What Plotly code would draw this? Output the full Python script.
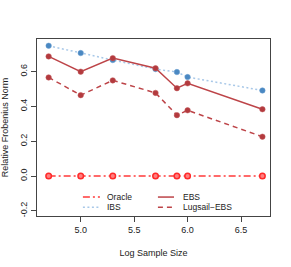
import plotly.graph_objects as go

log_n = [4.7, 5.0, 5.3, 5.7, 5.9, 6.0, 6.7]
oracle = [0.0, 0.0, 0.0, 0.0, 0.0, 0.0, 0.0]
ibs = [0.749, 0.707, 0.667, 0.615, 0.598, 0.569, 0.492]
ebs = [0.688, 0.600, 0.678, 0.620, 0.505, 0.533, 0.384]
lugsail = [0.567, 0.465, 0.550, 0.478, 0.350, 0.378, 0.226]

y_ticks = [-0.2, 0.0, 0.2, 0.4, 0.6]
x_ticks = [5.0, 5.5, 6.0, 6.5]
legend_labels = ["Oracle", "IBS", "EBS", "Lugsail\u2212EBS"]

FONT = "Liberation Sans, Arial, sans-serif"
TXT = "#222"

ORACLE_C = "#ff3a3a"
IBS_LINE = "#a8c8e8"
IBS_MARK = "#4a88c2"
EBS_LINE = "#bd4448"
EBS_MARK = "#b33a3e"

DASHDOT = "7px,3px,2px,3px"
DOT = "2px,2.5px"
DASH = "5px,4px"

fig = go.Figure()
fig.add_trace(go.Scatter(
    x=log_n, y=oracle, name=legend_labels[0], mode="lines+markers", showlegend=False,
    line=dict(color=ORACLE_C, width=1.5, dash=DASHDOT),
    marker=dict(size=5.5, color="#ff8080", line=dict(color="#ff2a2a", width=1.5))))
fig.add_trace(go.Scatter(
    x=log_n, y=ibs, name=legend_labels[1], mode="lines+markers", showlegend=False,
    line=dict(color=IBS_LINE, width=1.5, dash=DOT),
    marker=dict(size=5.5, color=IBS_MARK, line=dict(color="#6a9fd0", width=0.5))))
fig.add_trace(go.Scatter(
    x=log_n, y=ebs, name=legend_labels[2], mode="lines+markers", showlegend=False,
    line=dict(color=EBS_LINE, width=1.5),
    marker=dict(size=5.5, color=EBS_MARK, line=dict(color="#c0585a", width=0.5))))
fig.add_trace(go.Scatter(
    x=log_n, y=lugsail, name=legend_labels[3], mode="lines+markers", showlegend=False,
    line=dict(color=EBS_LINE, width=1.5, dash=DASH),
    marker=dict(size=5.5, color=EBS_MARK, line=dict(color="#c0585a", width=0.5))))

axis_common = dict(showgrid=False, zeroline=False, ticks="outside", ticklen=5,
                   tickcolor="#444", linecolor="#444", linewidth=1, showline=True,
                   mirror=True, automargin=False,
                   tickfont=dict(family=FONT, size=9, color=TXT))
fig.update_xaxes(range=[4.591, 6.771], tickvals=x_ticks, ticktext=[f"{v:.1f}" for v in x_ticks],
                 title=dict(text="Log Sample Size", font=dict(family=FONT, size=9, color=TXT)),
                 **axis_common)
fig.update_yaxes(range=[-0.230, 0.788], tickvals=y_ticks, ticktext=[f"{v:.1f}" for v in y_ticks],
                 tickangle=-90,
                 title=dict(text="Relative Frobenius Norm", font=dict(family=FONT, size=9, color=TXT)),
                 **axis_common)

# manual R-style legend (two columns)
legend_items = [
    (legend_labels[0], ORACLE_C, DASHDOT, 0.197, 0.270, 0.296, 0.107),
    (legend_labels[1], IBS_LINE, DOT, 0.197, 0.270, 0.296, 0.050),
    (legend_labels[2], EBS_LINE, "solid", 0.519, 0.588, 0.622, 0.107),
    (legend_labels[3], EBS_LINE, DASH, 0.519, 0.588, 0.622, 0.050),
]
for label, color, dash, x0, x1, xt, yy in legend_items:
    fig.add_shape(type="line", xref="paper", yref="paper", x0=x0, x1=x1, y0=yy, y1=yy,
                  line=dict(color=color, width=1.5, dash=dash))
    fig.add_annotation(xref="paper", yref="paper", x=xt, y=yy, text=label, showarrow=False,
                       xanchor="left", yanchor="middle", borderpad=0,
                       font=dict(family=FONT, size=8.5, color=TXT))

fig.update_layout(
    width=291, height=267,
    margin=dict(l=37, r=21, t=39, b=51),
    plot_bgcolor="white", paper_bgcolor="white",
    font=dict(family=FONT, size=9, color=TXT),
    showlegend=False,
)

fig.write_html("out.html", config={"displayModeBar": False},
               post_script="document.body.style.margin='0';")
